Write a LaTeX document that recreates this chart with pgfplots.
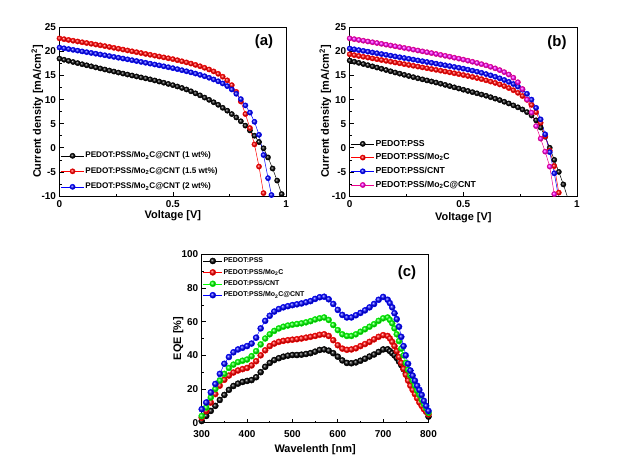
\documentclass[border=0pt]{standalone}
\usepackage{fontspec}
\setmainfont{Liberation Sans}
\usepackage{pgfplots}
\pgfplotsset{compat=1.18}
\usetikzlibrary{plotmarks}
\pgfplotsset{
  panel/.style={
    scale only axis, anchor=south west,
    axis line style={line width=0.8pt},
    tick align=inside, xtick pos=left, ytick pos=left,
    major tick length=4bp, minor tick length=2bp,
    every tick/.style={black, line width=0.6pt},
    ticklabel style={font=\bfseries\fontsize{10}{12}\selectfont},
    xticklabel style={yshift=-1.5bp},
    /pgf/number format/assume math mode=true,
    label style={font=\bfseries\fontsize{11}{13}\selectfont},
    legend cell align=left,
    legend image code/.code={\draw[mark repeat=2,mark phase=2] plot coordinates {(0bp,0bp)(11.5bp,0bp)(23bp,0bp)};},
  },
  ser/.style={color=#1, line width=0.5pt, mark=ball, mark size=2.6bp, mark options={ball color=#1}},
  serc/.style={color=#1, line width=0.5pt, mark=ball, mark size=3bp, mark options={ball color=#1}},
}
\begin{document}
\begin{tikzpicture}
\path[use as bounding box] (0bp,0bp) rectangle (624bp,463bp);
% ---------------- (a)
\begin{axis}[panel, at={(59.5bp,267bp)}, width=226.7bp, height=168.7bp,
  xmin=0, xmax=1, ymin=-10, ymax=25,
  xtick={0,0.5,1}, minor x tick num=1,
  ytick={-10,-5,...,25}, minor y tick num=1,
  xlabel={Voltage [V]}, ylabel={Current density [mA/cm\textsuperscript{2}]},
  xlabel style={at={(axis description cs:0.5,-0.119)}, anchor=center},
  ylabel style={at={(axis description cs:-0.098,0.5)}, anchor=center, rotate=0},
  legend style={draw=none, fill=none, at={(axis description cs:0.005,0.268)}, anchor=north west,
    font=\bfseries\fontsize{8.2}{9}\selectfont, row sep=5.8bp, inner xsep=0pt, inner ysep=0pt,
    nodes={inner sep=1bp, text height=6bp, text depth=1.7bp}},
]
\addplot[ser=black] coordinates {(0,18.5)(0.02,18.27)(0.04,18.04)(0.06,17.8)(0.08,17.57)(0.1,17.34)(0.12,17.12)(0.14,16.9)(0.16,16.68)(0.18,16.46)(0.2,16.24)(0.22,16.03)(0.24,15.82)(0.26,15.61)(0.28,15.4)(0.3,15.2)(0.32,15.0)(0.34,14.8)(0.36,14.6)(0.38,14.4)(0.4,14.2)(0.42,13.97)(0.44,13.74)(0.46,13.5)(0.48,13.25)(0.5,13.0)(0.52,12.72)(0.54,12.42)(0.56,12.1)(0.58,11.72)(0.6,11.3)(0.62,10.88)(0.64,10.42)(0.66,9.95)(0.68,9.45)(0.7,8.92)(0.72,8.3)(0.74,7.7)(0.76,7.0)(0.78,6.3)(0.8,5.5)(0.82,4.6)(0.84,3.6)(0.86,2.5)(0.88,1.2)(0.9,-0.1)(0.92,-2.0)(0.94,-4.3)(0.96,-6.8)(0.98,-9.6)};
\addlegendentry{PEDOT:PSS/Mo\textsubscript{2}C@CNT (1 wt\%)}
\addplot[ser=red] coordinates {(0,22.7)(0.02,22.54)(0.04,22.38)(0.06,22.22)(0.08,22.06)(0.1,21.9)(0.12,21.74)(0.14,21.58)(0.16,21.42)(0.18,21.26)(0.2,21.1)(0.22,20.92)(0.24,20.74)(0.26,20.56)(0.28,20.38)(0.3,20.2)(0.32,20.02)(0.34,19.84)(0.36,19.66)(0.38,19.48)(0.4,19.3)(0.42,19.12)(0.44,18.94)(0.46,18.76)(0.48,18.58)(0.5,18.4)(0.52,18.18)(0.54,17.95)(0.56,17.72)(0.58,17.47)(0.6,17.2)(0.62,16.92)(0.64,16.6)(0.66,16.25)(0.68,15.85)(0.7,15.35)(0.72,14.75)(0.74,14.0)(0.76,13.0)(0.78,11.6)(0.8,9.6)(0.82,7.0)(0.84,4.1)(0.86,0.7)(0.88,-3.9)(0.9,-9.4)};
\addlegendentry{PEDOT:PSS/Mo\textsubscript{2}C@CNT (1.5 wt\%)}
\addplot[ser=blue] coordinates {(0,20.8)(0.02,20.64)(0.04,20.48)(0.06,20.32)(0.08,20.16)(0.1,20.0)(0.12,19.84)(0.14,19.68)(0.16,19.52)(0.18,19.36)(0.2,19.2)(0.22,19.03)(0.24,18.86)(0.26,18.69)(0.28,18.52)(0.3,18.35)(0.32,18.18)(0.34,18.0)(0.36,17.82)(0.38,17.64)(0.4,17.46)(0.42,17.28)(0.44,17.1)(0.46,16.91)(0.48,16.72)(0.5,16.52)(0.52,16.32)(0.54,16.1)(0.56,15.88)(0.58,15.65)(0.6,15.4)(0.62,15.13)(0.64,14.85)(0.66,14.53)(0.68,14.18)(0.7,13.8)(0.72,13.35)(0.74,12.8)(0.76,12.1)(0.78,11.2)(0.8,10.1)(0.82,8.8)(0.84,7.3)(0.86,5.4)(0.88,2.7)(0.9,-1.5)(0.92,-6.3)(0.935,-9.8)};
\addlegendentry{PEDOT:PSS/Mo\textsubscript{2}C@CNT (2 wt\%)}
\node[font=\bfseries\fontsize{15}{18}\selectfont] at (rel axis cs:0.902,0.913) {(a)};
\end{axis}
% ---------------- (b)
\begin{axis}[panel, at={(349.7bp,267bp)}, width=227.3bp, height=168.7bp,
  xmin=0, xmax=1, ymin=-10, ymax=25,
  xtick={0,0.5,1}, minor x tick num=1,
  ytick={-10,-5,...,25}, minor y tick num=1,
  xlabel={Voltage [V]}, ylabel={Current density [mA/cm\textsuperscript{2}]},
  xlabel style={at={(axis description cs:0.5,-0.126)}, anchor=center},
  ylabel style={at={(axis description cs:-0.107,0.5)}, anchor=center, rotate=0},
  legend style={draw=none, fill=none, at={(axis description cs:0.005,0.34)}, anchor=north west,
    font=\bfseries\fontsize{8.7}{10}\selectfont, row sep=3.6bp, inner xsep=0pt, inner ysep=0pt,
    nodes={inner sep=1bp, text height=6.3bp, text depth=1.8bp}},
]
\addplot[ser=black] coordinates {(0,18.1)(0.02,17.86)(0.04,17.62)(0.06,17.38)(0.08,17.14)(0.1,16.9)(0.12,16.65)(0.14,16.4)(0.16,16.14)(0.18,15.88)(0.2,15.62)(0.22,15.38)(0.24,15.14)(0.26,14.9)(0.28,14.66)(0.3,14.42)(0.32,14.2)(0.34,13.98)(0.36,13.76)(0.38,13.54)(0.4,13.3)(0.42,13.05)(0.44,12.8)(0.46,12.55)(0.48,12.3)(0.5,12.05)(0.52,11.8)(0.54,11.55)(0.56,11.3)(0.58,11.05)(0.6,10.8)(0.62,10.5)(0.64,10.2)(0.66,9.9)(0.68,9.55)(0.7,9.2)(0.72,8.8)(0.74,8.4)(0.76,7.95)(0.78,7.4)(0.8,6.7)(0.82,5.7)(0.84,4.2)(0.86,2.3)(0.88,0.0)(0.9,-2.5)(0.92,-5.0)(0.94,-7.6)(0.96,-10.5)};
\addlegendentry{PEDOT:PSS}
\addplot[ser=red] coordinates {(0,19.4)(0.02,19.23)(0.04,19.06)(0.06,18.89)(0.08,18.72)(0.1,18.55)(0.12,18.38)(0.14,18.21)(0.16,18.04)(0.18,17.87)(0.2,17.7)(0.22,17.53)(0.24,17.36)(0.26,17.19)(0.28,17.02)(0.3,16.85)(0.32,16.68)(0.34,16.51)(0.36,16.34)(0.38,16.17)(0.4,16.0)(0.42,15.83)(0.44,15.65)(0.46,15.47)(0.48,15.29)(0.5,15.1)(0.52,14.9)(0.54,14.7)(0.56,14.48)(0.58,14.25)(0.6,14.0)(0.62,13.74)(0.64,13.46)(0.66,13.15)(0.68,12.8)(0.7,12.4)(0.72,11.95)(0.74,11.4)(0.76,10.75)(0.78,9.95)(0.8,8.9)(0.82,7.4)(0.84,5.2)(0.86,2.4)(0.88,-0.6)(0.9,-3.8)(0.92,-9.3)};
\addlegendentry{PEDOT:PSS/Mo\textsubscript{2}C}
\addplot[ser=blue] coordinates {(0,20.6)(0.02,20.44)(0.04,20.27)(0.06,20.11)(0.08,19.95)(0.1,19.78)(0.12,19.62)(0.14,19.45)(0.16,19.29)(0.18,19.12)(0.2,18.96)(0.22,18.79)(0.24,18.63)(0.26,18.46)(0.28,18.3)(0.3,18.13)(0.32,17.97)(0.34,17.8)(0.36,17.63)(0.38,17.46)(0.4,17.29)(0.42,17.12)(0.44,16.95)(0.46,16.78)(0.48,16.6)(0.5,16.42)(0.52,16.22)(0.54,16.01)(0.56,15.79)(0.58,15.55)(0.6,15.3)(0.62,15.03)(0.64,14.74)(0.66,14.42)(0.68,14.07)(0.7,13.68)(0.72,13.23)(0.74,12.7)(0.76,12.05)(0.78,11.2)(0.8,10.0)(0.82,8.3)(0.84,5.9)(0.86,2.8)(0.88,-0.9)(0.9,-5.3)(0.92,-10.5)};
\addlegendentry{PEDOT:PSS/CNT}
\addplot[ser=magenta] coordinates {(0,22.7)(0.02,22.54)(0.04,22.38)(0.06,22.22)(0.08,22.06)(0.1,21.9)(0.12,21.74)(0.14,21.57)(0.16,21.4)(0.18,21.23)(0.2,21.06)(0.22,20.89)(0.24,20.72)(0.26,20.55)(0.28,20.37)(0.3,20.19)(0.32,20.01)(0.34,19.83)(0.36,19.65)(0.38,19.47)(0.4,19.28)(0.42,19.09)(0.44,18.9)(0.46,18.7)(0.48,18.5)(0.5,18.3)(0.52,18.08)(0.54,17.85)(0.56,17.61)(0.58,17.36)(0.6,17.1)(0.62,16.8)(0.64,16.48)(0.66,16.12)(0.68,15.7)(0.7,15.2)(0.72,14.55)(0.74,13.6)(0.76,12.2)(0.78,10.0)(0.8,7.3)(0.82,4.5)(0.84,1.9)(0.86,-0.8)(0.88,-3.9)(0.9,-9.6)};
\addlegendentry{PEDOT:PSS/Mo\textsubscript{2}C@CNT}
\node[font=\bfseries\fontsize{15}{18}\selectfont] at (rel axis cs:0.912,0.911) {(b)};
\end{axis}
% ---------------- (c)
\begin{axis}[panel, at={(201.7bp,40.3bp)}, width=226.8bp, height=168.4bp,
  xmin=300, xmax=800, ymin=0, ymax=100,
  xtick={300,400,...,800}, minor x tick num=1,
  ytick={0,20,...,100}, minor y tick num=1,
  xticklabel style={yshift=-2.5bp},
  xlabel={Wavelenth [nm]}, ylabel={EQE [\%]},
  xlabel style={at={(axis description cs:0.5,-0.162)}, anchor=center},
  ylabel style={at={(axis description cs:-0.103,0.5)}, anchor=center, rotate=0},
  legend style={draw=none, fill=none, at={(axis description cs:0.005,0.987)}, anchor=north west,
    font=\bfseries\fontsize{7}{8}\selectfont, row sep=2.8bp, inner xsep=0pt, inner ysep=0pt,
    nodes={inner sep=1bp, text height=5.1bp, text depth=1.5bp}},
  legend image code/.code={\draw[mark repeat=2,mark phase=2] plot coordinates {(0bp,0bp)(9.5bp,0bp)(19bp,0bp)};},
]
\addplot[serc=black] coordinates {(300,1)(310,4)(320,7)(330,10)(340,13.5)(350,16.5)(360,19.5)(370,21.8)(380,23.2)(390,24.2)(400,24.8)(410,25.3)(420,27)(430,30)(440,33.2)(450,35.5)(460,37.2)(470,38.3)(480,39.2)(490,39.8)(500,40.2)(510,40.2)(520,40.4)(530,40.8)(540,41.3)(550,42.2)(560,43.2)(570,43.5)(580,42.8)(590,41.3)(600,39.2)(610,37)(620,35.5)(630,35.3)(640,35.8)(650,36.8)(660,38)(670,39.3)(680,40.5)(690,42)(700,43.5)(710,43.6)(715,42.5)(720,41.3)(725,40)(730,38.4)(735,36.3)(740,34.2)(745,31.8)(750,29.3)(755,26.6)(760,24)(765,21.4)(770,19)(775,16.6)(780,14.2)(785,12)(790,9.6)(795,6.6)(800,3.6)};
\addlegendentry{PEDOT:PSS}
\addplot[serc=red] coordinates {(300,3)(310,7)(320,12)(330,17)(340,22)(350,25.5)(360,28)(370,29.8)(380,31)(390,31.8)(400,32.5)(410,34)(420,36.5)(430,40)(440,43)(450,45.5)(460,47)(470,48)(480,48.6)(490,49)(500,49.3)(510,49.6)(520,50)(530,50.5)(540,51)(550,51.5)(560,52.2)(570,52.5)(580,51.5)(590,49)(600,46)(610,44)(620,43.3)(630,43.5)(640,44.2)(650,45.5)(660,46.7)(670,48)(680,49.5)(690,51)(700,52)(710,51.5)(715,50)(720,48)(725,45.5)(730,42.5)(735,39)(740,35.5)(745,32)(750,28.5)(755,25)(760,22)(765,19.5)(770,17)(775,14.5)(780,12)(785,10)(790,8)(795,6.5)(800,5)};
\addlegendentry{PEDOT:PSS/Mo\textsubscript{2}C}
\addplot[serc=green] coordinates {(300,4)(310,9)(320,15)(330,20)(340,25)(350,29)(360,32.5)(370,34.5)(380,36)(390,36.8)(400,37.5)(410,39.5)(420,42.5)(430,46.5)(440,50)(450,52.5)(460,54.5)(470,56)(480,57)(490,57.7)(500,58.2)(510,58.6)(520,59)(530,59.6)(540,60.3)(550,61.3)(560,62)(570,62.5)(580,61)(590,58)(600,55)(610,52.5)(620,51.5)(630,51.5)(640,52.5)(650,54)(660,55.5)(670,57)(680,58.5)(690,60.5)(700,62)(710,62.5)(715,61)(720,59)(725,56)(730,52.5)(735,48.5)(740,44)(745,40)(750,35.5)(755,31.5)(760,28)(765,25)(770,22)(775,19)(780,16.5)(785,13.5)(790,11)(795,8.5)(800,6)};
\addlegendentry{PEDOT:PSS/CNT}
\addplot[serc=blue] coordinates {(300,8)(310,12)(320,18)(330,23)(340,29)(350,35)(360,39)(370,41.8)(380,43.5)(390,44.5)(400,45.5)(410,47)(420,50.5)(430,56)(440,60.5)(450,63.5)(460,66)(470,67.5)(480,68.5)(490,69.2)(500,69.8)(510,70.3)(520,70.8)(530,71.5)(540,72.2)(550,73.5)(560,74.5)(570,74.8)(580,73.3)(590,70.5)(600,67)(610,64)(620,62.5)(630,62.5)(640,63.8)(650,65.2)(660,66.7)(670,68.5)(680,70.5)(690,73)(700,74.7)(710,73)(715,71)(720,68.5)(725,65)(730,61.5)(735,57)(740,51)(745,45.5)(750,40)(755,35)(760,31)(765,28)(770,25)(775,22)(780,19.5)(785,16.5)(790,13)(795,10)(800,7)};
\addlegendentry{PEDOT:PSS/Mo\textsubscript{2}C@CNT}
\node[font=\bfseries\fontsize{15}{18}\selectfont] at (rel axis cs:0.905,0.891) {(c)};
\end{axis}
\end{tikzpicture}
\end{document}
